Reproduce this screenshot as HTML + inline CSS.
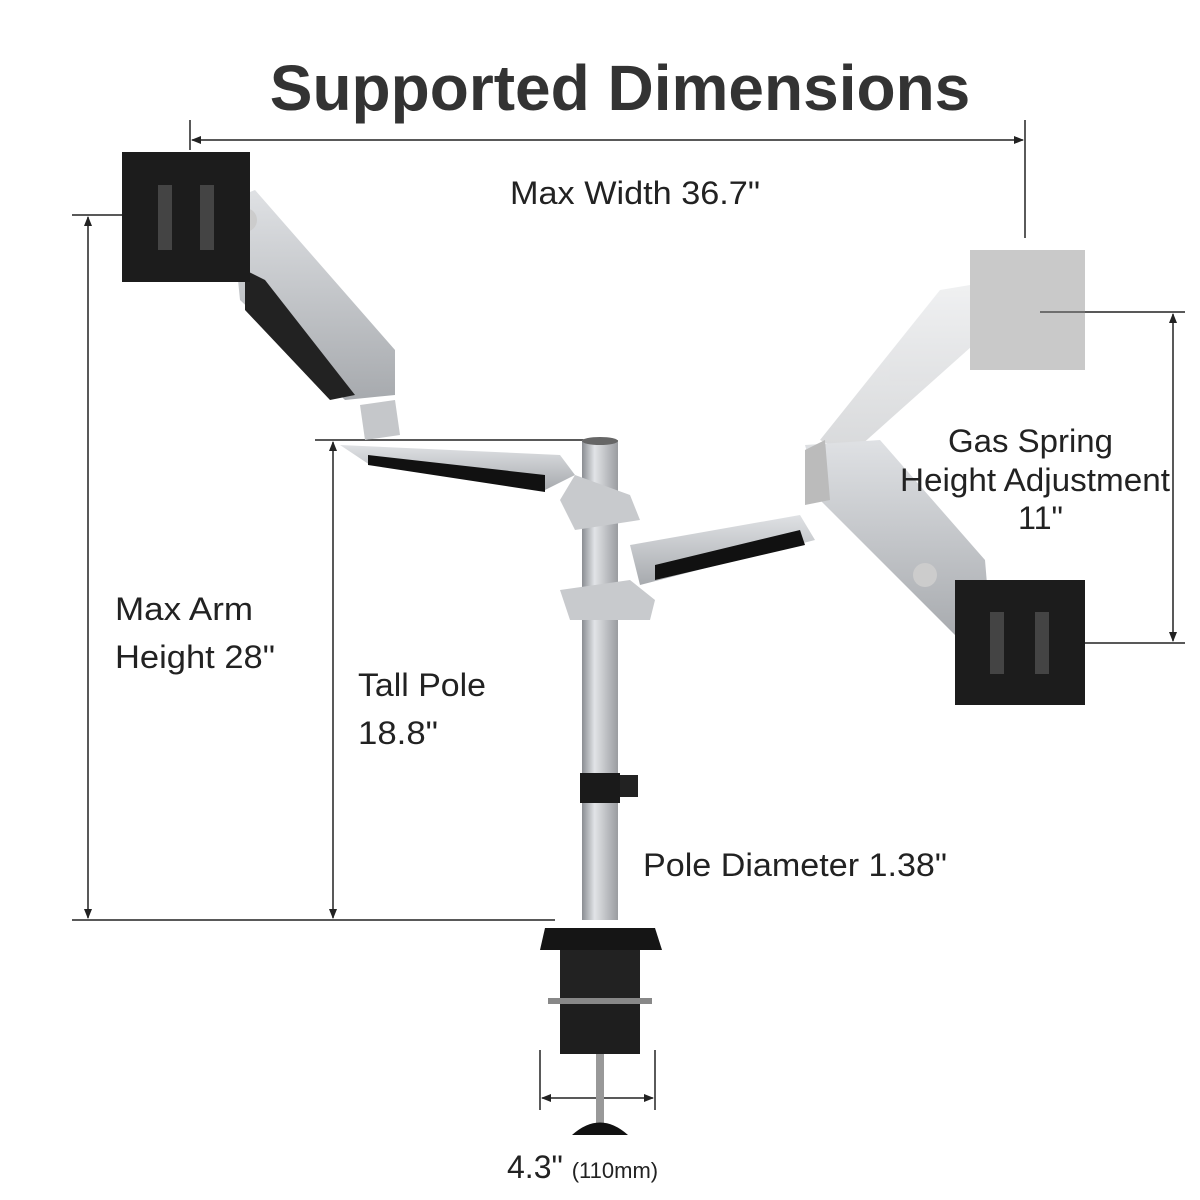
<!DOCTYPE html>
<html><head><meta charset="utf-8"><style>
html,body{margin:0;padding:0;background:#fff}
svg{display:block}
text{font-family:"Liberation Sans",sans-serif;fill:#222}
</style></head><body>
<svg width="1200" height="1200" viewBox="0 0 1200 1200" xmlns="http://www.w3.org/2000/svg">
<defs>
<linearGradient id="pole" x1="0" x2="1"><stop offset="0" stop-color="#8a8d92"/><stop offset=".35" stop-color="#e2e4e7"/><stop offset="1" stop-color="#9a9ca0"/></linearGradient>
<linearGradient id="arm" x1="0" y1="0" x2="0" y2="1"><stop offset="0" stop-color="#dfe1e4"/><stop offset="1" stop-color="#a7aaae"/></linearGradient>
<marker id="ar" markerWidth="10" markerHeight="10" refX="9" refY="5" orient="auto-start-reverse" markerUnits="userSpaceOnUse"><path d="M0,1 L10,5 L0,9 z" fill="#222"/></marker>
</defs>
<text x="620" y="110" font-size="64" font-weight="bold" text-anchor="middle" style="fill:#333">Supported Dimensions</text>

<g stroke="#222" stroke-width="1.5" fill="none">
<line x1="190" y1="120" x2="190" y2="150"/>
<line x1="1025" y1="120" x2="1025" y2="238"/>
<line x1="192" y1="140" x2="1023" y2="140" marker-start="url(#ar)" marker-end="url(#ar)"/>
<line x1="72" y1="215" x2="150" y2="215"/>
<line x1="72" y1="920" x2="555" y2="920"/>
<line x1="88" y1="217" x2="88" y2="918" marker-start="url(#ar)" marker-end="url(#ar)"/>
<line x1="315" y1="440" x2="600" y2="440"/>
<line x1="333" y1="442" x2="333" y2="918" marker-start="url(#ar)" marker-end="url(#ar)"/>
<line x1="1040" y1="312" x2="1185" y2="312"/>
<line x1="990" y1="643" x2="1185" y2="643"/>
<line x1="1173" y1="314" x2="1173" y2="641" marker-start="url(#ar)" marker-end="url(#ar)"/>
<line x1="540" y1="1050" x2="540" y2="1110"/>
<line x1="655" y1="1050" x2="655" y2="1110"/>
<line x1="542" y1="1098" x2="653" y2="1098" marker-start="url(#ar)" marker-end="url(#ar)"/>
</g>

<g opacity="0.45">
<polygon points="940,290 1000,280 990,330 850,455 820,440" fill="url(#arm)"/>
<path d="M970,250 H1085 V370 H970 Z" fill="#888"/>
</g>

<rect x="582" y="440" width="36" height="480" fill="url(#pole)"/>
<ellipse cx="600" cy="441" rx="18" ry="4" fill="#666"/>
<rect x="580" y="773" width="40" height="30" fill="#1a1a1a"/>
<rect x="620" y="775" width="18" height="22" fill="#222"/>

<polygon points="340,445 560,455 575,475 545,490 370,465" fill="url(#arm)"/>
<polygon points="368,455 545,475 545,492 368,465" fill="#111"/>
<polygon points="360,405 395,400 400,435 365,440" fill="#c5c7ca"/>
<polygon points="575,475 630,495 640,520 575,530 560,500" fill="#c8cacd"/>
<polygon points="230,200 255,190 395,350 395,395 345,400 240,300" fill="url(#arm)"/>
<polygon points="245,270 265,280 355,395 330,400 245,310" fill="#222"/>
<circle cx="245" cy="220" r="12" fill="#ccc"/>
<rect x="122" y="152" width="128" height="130" fill="#1c1c1c"/>
<rect x="158" y="185" width="14" height="65" fill="#444"/><rect x="200" y="185" width="14" height="65" fill="#444"/>

<polygon points="630,545 800,515 815,540 640,585" fill="url(#arm)"/>
<polygon points="655,565 800,530 805,545 655,580" fill="#111"/>
<polygon points="560,590 630,580 655,600 650,620 570,620" fill="#c8cacd"/>
<polygon points="805,445 880,440 985,560 990,620 960,640 820,500" fill="url(#arm)"/>
<polygon points="805,450 825,440 830,500 805,505" fill="#bbb"/>
<circle cx="925" cy="575" r="12" fill="#ccc"/>
<rect x="955" y="580" width="130" height="125" fill="#1c1c1c"/>
<rect x="990" y="612" width="14" height="62" fill="#444"/><rect x="1035" y="612" width="14" height="62" fill="#444"/>

<polygon points="545,928 655,928 662,950 540,950" fill="#151515"/>
<rect x="560" y="950" width="80" height="50" fill="#222"/>
<rect x="548" y="998" width="104" height="6" fill="#888"/>
<rect x="560" y="1004" width="80" height="50" fill="#1e1e1e"/>
<rect x="596" y="1054" width="8" height="70" fill="#999"/>
<path d="M572,1135 Q600,1110 628,1135 z" fill="#111"/>

<g font-size="32">
<text x="510" y="204" textLength="250" lengthAdjust="spacingAndGlyphs">Max Width 36.7"</text>
<text x="115" y="620" textLength="138" lengthAdjust="spacingAndGlyphs">Max Arm</text>
<text x="115" y="668" textLength="160" lengthAdjust="spacingAndGlyphs">Height 28"</text>
<text x="358" y="696" textLength="128" lengthAdjust="spacingAndGlyphs">Tall Pole</text>
<text x="358" y="744" textLength="80" lengthAdjust="spacingAndGlyphs">18.8"</text>
<text x="948" y="452" textLength="165" lengthAdjust="spacingAndGlyphs">Gas Spring</text>
<text x="900" y="491" textLength="270" lengthAdjust="spacingAndGlyphs">Height Adjustment</text>
<text x="1018" y="529" textLength="45" lengthAdjust="spacingAndGlyphs">11"</text>
<text x="643" y="876" textLength="304" lengthAdjust="spacingAndGlyphs">Pole Diameter 1.38"</text>
<text x="507" y="1178">4.3" <tspan font-size="22">(110mm)</tspan></text>
</g>
</svg>
</body></html>
